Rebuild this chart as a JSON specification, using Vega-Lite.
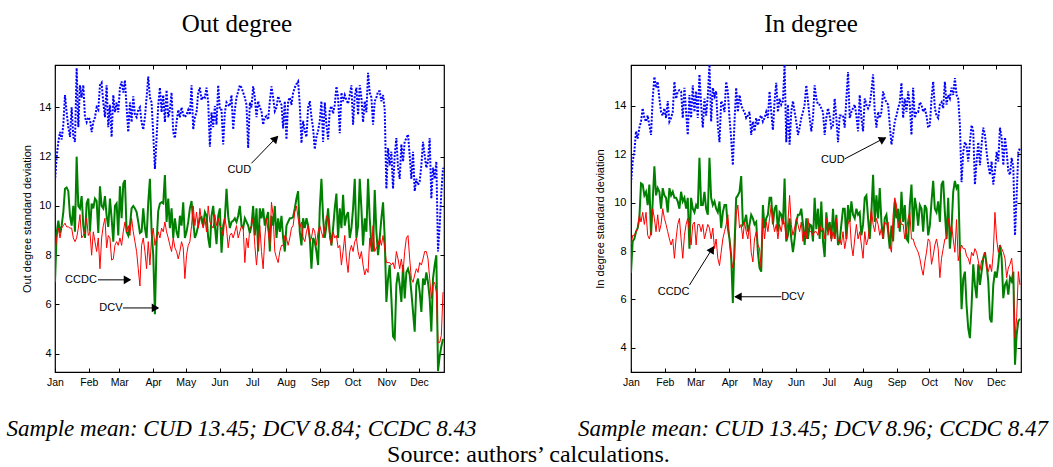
{
"$schema":"https://vega.github.io/schema/vega-lite/v6.json",
"background":"white",
"padding":{"left":5,"top":10,"right":0,"bottom":0},
"spacing":187,
"bounds":"flush",
"title":{"text":"Source: authors’ calculations.","orient":"bottom","anchor":"middle","fontSize":24,"baseline":"alphabetic","offset":21.5,"dx":1.7},
"config":{"view":{"stroke":"black","strokeWidth":1.2},"axis":{"grid":false,"domain":false,"ticks":true,"tickColor":"black","tickSize":-4,"tickWidth":1,"labelColor":"black","labelFont":"Liberation Sans","titleFont":"Liberation Sans","titleColor":"black","titleFontWeight":"normal"},"title":{"font":"Liberation Serif","fontWeight":"normal","color":"black"}},
"hconcat":[
{
"width":389,"height":307,
"title":{"text":"Out degree","fontSize":25,"baseline":"alphabetic","offset":8,"dx":-12.5,"anchor":"middle"},
"resolve":{"axis":{"x":"independent","y":"independent"}},
"data":{"values":[
{"t":0,"u":11.0,"v":6.9,"c":8.15},{"t":1,"u":12.0,"v":8.9,"c":8.7},{"t":2,"u":12.6,"v":9.4,"c":9.1},{"t":3,"u":13.0,"v":8.9,"c":8.7},{"t":4,"u":12.7,"v":9.2,"c":9.1},{"t":5,"u":13.3,"v":9.75,"c":9.2},{"t":6,"u":14.5,"v":10.7,"c":9.3},{"t":7,"u":13.8,"v":10.75,"c":9.15},{"t":8,"u":13.2,"v":10.6,"c":9.15},{"t":9,"u":12.8,"v":9.6,"c":9.1},
{"t":10,"u":14.0,"v":9.2,"c":9.1},{"t":11,"u":12.8,"v":10.0,"c":8.7},{"t":12,"u":12.6,"v":8.95,"c":8.55},{"t":13,"u":15.6,"v":12.0,"c":8.7},{"t":14,"u":13.2,"v":10.0,"c":9.1},{"t":15,"u":14.9,"v":9.9,"c":9.65},{"t":16,"u":14.4,"v":10.4,"c":8.7},{"t":17,"u":14.9,"v":9.2,"c":8.8},{"t":18,"u":13.6,"v":8.7,"c":8.95},{"t":19,"u":13.4,"v":10.1,"c":9.5},
{"t":20,"u":13.6,"v":10.3,"c":8.8},{"t":21,"u":13.5,"v":8.95,"c":8.95},{"t":22,"u":13.0,"v":10.1,"c":8.0},{"t":23,"u":13.4,"v":9.9,"c":8.95},{"t":24,"u":13.6,"v":10.3,"c":8.55},{"t":25,"u":14.0,"v":10.2,"c":8.15},{"t":26,"u":13.9,"v":8.9,"c":8.7},{"t":27,"u":14.9,"v":10.8,"c":7.45},{"t":28,"u":15.0,"v":10.0,"c":8.7},{"t":29,"u":14.2,"v":9.9,"c":9.2},
{"t":30,"u":13.6,"v":10.4,"c":9.5},{"t":31,"u":14.9,"v":9.6,"c":8.3},{"t":32,"u":13.2,"v":9.15,"c":8.8},{"t":33,"u":14.1,"v":10.3,"c":8.7},{"t":34,"u":12.8,"v":9.5,"c":7.8},{"t":35,"u":14.5,"v":8.55,"c":7.85},{"t":36,"u":13.8,"v":10.0,"c":8.4},{"t":37,"u":14.2,"v":10.1,"c":8.55},{"t":38,"u":13.8,"v":8.8,"c":8.4},{"t":39,"u":14.8,"v":10.8,"c":8.7},
{"t":40,"u":15.05,"v":9.5,"c":8.4},{"t":41,"u":14.6,"v":10.9,"c":8.95},{"t":42,"u":15.1,"v":11.05,"c":9.35},{"t":43,"u":14.0,"v":8.95,"c":8.95},{"t":44,"u":13.0,"v":8.8,"c":9.2},{"t":45,"u":14.2,"v":9.2,"c":8.8},{"t":46,"u":13.4,"v":9.9,"c":9.5},{"t":47,"u":14.45,"v":10.0,"c":8.95},{"t":48,"u":13.7,"v":9.9,"c":8.55},{"t":49,"u":13.6,"v":9.75,"c":8.15},
{"t":50,"u":13.9,"v":9.35,"c":7.45},{"t":51,"u":14.0,"v":8.9,"c":6.75},{"t":52,"u":13.4,"v":8.95,"c":8.4},{"t":53,"u":13.1,"v":9.9,"c":8.7},{"t":54,"u":13.6,"v":9.1,"c":8.15},{"t":55,"u":14.4,"v":8.7,"c":7.45},{"t":56,"u":15.25,"v":10.15,"c":8.55},{"t":57,"u":14.4,"v":11.1,"c":7.6},{"t":58,"u":14.2,"v":9.0,"c":8.7},{"t":59,"u":12.9,"v":8.0,"c":9.1},
{"t":60,"u":11.5,"v":5.6,"c":8.4},{"t":61,"u":12.75,"v":8.5,"c":8.7},{"t":62,"u":14.1,"v":9.8,"c":8.95},{"t":63,"u":14.8,"v":10.1,"c":8.7},{"t":64,"u":13.8,"v":10.15,"c":9.1},{"t":65,"u":14.5,"v":10.1,"c":8.95},{"t":66,"u":13.4,"v":11.25,"c":9.35},{"t":67,"u":14.7,"v":9.35,"c":8.95},{"t":68,"u":13.6,"v":10.3,"c":8.7},{"t":69,"u":13.9,"v":9.1,"c":8.4},
{"t":70,"u":14.6,"v":9.9,"c":8.15},{"t":71,"u":13.0,"v":8.7,"c":8.7},{"t":72,"u":12.75,"v":9.5,"c":8.3},{"t":73,"u":13.4,"v":8.95,"c":8.15},{"t":74,"u":13.9,"v":8.7,"c":7.85},{"t":75,"u":13.6,"v":9.6,"c":8.15},{"t":76,"u":14.0,"v":9.2,"c":8.55},{"t":77,"u":13.7,"v":10.15,"c":8.3},{"t":78,"u":13.6,"v":8.7,"c":7.05},{"t":79,"u":13.7,"v":8.95,"c":8.0},
{"t":80,"u":13.9,"v":9.35,"c":8.4},{"t":81,"u":13.7,"v":9.9,"c":8.55},{"t":82,"u":14.9,"v":10.2,"c":9.2},{"t":83,"u":13.1,"v":9.35,"c":10.0},{"t":84,"u":13.6,"v":8.7,"c":9.2},{"t":85,"u":13.8,"v":8.9,"c":9.75},{"t":86,"u":14.6,"v":9.2,"c":9.1},{"t":87,"u":14.8,"v":9.5,"c":9.9},{"t":88,"u":14.3,"v":9.55,"c":9.35},{"t":89,"u":14.45,"v":9.2,"c":9.1},
{"t":90,"u":14.4,"v":9.75,"c":9.5},{"t":91,"u":14.8,"v":9.6,"c":8.95},{"t":92,"u":14.2,"v":8.7,"c":10.0},{"t":93,"u":12.4,"v":8.3,"c":9.35},{"t":94,"u":13.8,"v":9.6,"c":9.2},{"t":95,"u":13.2,"v":10.0,"c":9.1},{"t":96,"u":14.05,"v":9.2,"c":9.65},{"t":97,"u":13.3,"v":8.45,"c":9.2},{"t":98,"u":14.9,"v":9.6,"c":9.5},{"t":99,"u":13.9,"v":9.9,"c":9.2},
{"t":100,"u":13.9,"v":8.1,"c":9.1},{"t":101,"u":12.5,"v":9.2,"c":8.8},{"t":102,"u":13.8,"v":9.5,"c":9.5},{"t":103,"u":14.2,"v":10.7,"c":9.1},{"t":104,"u":14.1,"v":9.6,"c":8.3},{"t":105,"u":14.05,"v":9.1,"c":8.8},{"t":106,"u":14.5,"v":9.35,"c":8.9},{"t":107,"u":13.1,"v":9.4,"c":8.7},{"t":108,"u":13.9,"v":9.5,"c":8.95},{"t":109,"u":14.4,"v":9.35,"c":9.2},
{"t":110,"u":14.65,"v":9.6,"c":8.7},{"t":111,"u":14.9,"v":10.0,"c":8.95},{"t":112,"u":14.8,"v":9.2,"c":9.2},{"t":113,"u":14.6,"v":9.1,"c":9.1},{"t":114,"u":14.4,"v":9.5,"c":7.7},{"t":115,"u":14.1,"v":9.35,"c":8.7},{"t":116,"u":12.35,"v":9.2,"c":8.3},{"t":117,"u":14.2,"v":8.9,"c":9.1},{"t":118,"u":14.0,"v":9.2,"c":9.2},{"t":119,"u":14.85,"v":10.0,"c":9.5},
{"t":120,"u":14.4,"v":8.8,"c":8.4},{"t":121,"u":13.6,"v":9.9,"c":7.6},{"t":122,"u":14.25,"v":8.15,"c":8.4},{"t":123,"u":14.0,"v":9.9,"c":9.2},{"t":124,"u":13.85,"v":9.5,"c":8.15},{"t":125,"u":13.3,"v":9.9,"c":7.45},{"t":126,"u":13.6,"v":9.2,"c":8.7},{"t":127,"u":13.65,"v":9.5,"c":9.5},{"t":128,"u":13.5,"v":9.75,"c":8.95},{"t":129,"u":14.25,"v":8.15,"c":8.4},
{"t":130,"u":14.85,"v":9.6,"c":10.15},{"t":131,"u":14.4,"v":9.2,"c":9.6},{"t":132,"u":13.85,"v":10.0,"c":8.15},{"t":133,"u":14.0,"v":8.7,"c":7.9},{"t":134,"u":14.45,"v":9.5,"c":7.7},{"t":135,"u":14.25,"v":8.95,"c":8.15},{"t":136,"u":14.1,"v":9.6,"c":8.4},{"t":137,"u":13.15,"v":8.7,"c":8.4},{"t":138,"u":14.25,"v":8.15,"c":8.8},{"t":139,"u":12.7,"v":9.2,"c":8.7},
{"t":140,"u":14.25,"v":9.35,"c":8.4},{"t":141,"u":14.4,"v":9.5,"c":8.7},{"t":142,"u":14.1,"v":9.5,"c":9.1},{"t":143,"u":14.6,"v":9.55,"c":9.2},{"t":144,"u":14.8,"v":9.9,"c":9.75},{"t":145,"u":14.95,"v":10.3,"c":10.0},{"t":146,"u":15.05,"v":10.6,"c":9.5},{"t":147,"u":14.1,"v":8.95,"c":9.1},{"t":148,"u":12.55,"v":8.4,"c":9.35},{"t":149,"u":13.45,"v":9.5,"c":8.7},
{"t":150,"u":13.05,"v":9.1,"c":8.55},{"t":151,"u":12.8,"v":9.5,"c":8.95},{"t":152,"u":14.0,"v":9.2,"c":9.2},{"t":153,"u":14.25,"v":8.7,"c":8.55},{"t":154,"u":13.6,"v":7.45,"c":8.7},{"t":155,"u":13.15,"v":8.7,"c":9.1},{"t":156,"u":12.3,"v":8.55,"c":8.95},{"t":157,"u":12.8,"v":8.15,"c":8.4},{"t":158,"u":13.05,"v":7.6,"c":8.95},{"t":159,"u":13.45,"v":9.9,"c":9.2},
{"t":160,"u":14.25,"v":11.1,"c":8.95},{"t":161,"u":12.6,"v":9.5,"c":8.7},{"t":162,"u":14.2,"v":8.7,"c":9.1},{"t":163,"u":13.3,"v":9.2,"c":9.6},{"t":164,"u":12.7,"v":9.9,"c":9.5},{"t":165,"u":13.9,"v":8.95,"c":8.7},{"t":166,"u":14.05,"v":8.4,"c":8.4},{"t":167,"u":13.75,"v":9.1,"c":8.95},{"t":168,"u":14.1,"v":9.9,"c":8.7},{"t":169,"u":14.85,"v":10.5,"c":8.8},
{"t":170,"u":14.4,"v":8.7,"c":8.3},{"t":171,"u":12.95,"v":9.9,"c":8.4},{"t":172,"u":14.6,"v":9.1,"c":7.6},{"t":173,"u":14.25,"v":10.45,"c":8.15},{"t":174,"u":14.5,"v":9.2,"c":8.8},{"t":175,"u":14.3,"v":9.6,"c":7.85},{"t":176,"u":14.15,"v":9.75,"c":7.3},{"t":177,"u":14.5,"v":8.7,"c":8.15},{"t":178,"u":14.9,"v":9.1,"c":8.4},{"t":179,"u":13.3,"v":9.9,"c":8.15},
{"t":180,"u":14.45,"v":11.1,"c":8.55},{"t":181,"u":14.8,"v":8.7,"c":8.7},{"t":182,"u":13.7,"v":9.2,"c":8.15},{"t":183,"u":14.9,"v":11.1,"c":7.85},{"t":184,"u":14.4,"v":9.9,"c":8.15},{"t":185,"u":13.4,"v":8.4,"c":7.6},{"t":186,"u":14.25,"v":9.5,"c":7.2},{"t":187,"u":13.8,"v":8.95,"c":7.45},{"t":188,"u":15.4,"v":11.1,"c":7.3},{"t":189,"u":14.6,"v":9.5,"c":8.7},
{"t":190,"u":14.4,"v":8.4,"c":8.15},{"t":191,"u":13.3,"v":8.15,"c":9.2},{"t":192,"u":14.25,"v":10.65,"c":8.15},{"t":193,"u":14.4,"v":8.95,"c":8.3},{"t":194,"u":14.65,"v":8.0,"c":8.4},{"t":195,"u":14.65,"v":8.7,"c":8.7},{"t":196,"u":14.25,"v":9.5,"c":8.4},{"t":197,"u":14.5,"v":10.15,"c":8.8},{"t":198,"u":13.9,"v":8.7,"c":8.3},{"t":199,"u":10.7,"v":6.1,"c":7.7},
{"t":200,"u":12.35,"v":7.05,"c":7.7},{"t":201,"u":11.65,"v":7.6,"c":7.7},{"t":202,"u":12.2,"v":6.25,"c":7.6},{"t":203,"u":10.7,"v":4.7,"c":7.7},{"t":204,"u":12.05,"v":4.6,"c":7.45},{"t":205,"u":12.75,"v":6.8,"c":8.15},{"t":206,"u":11.55,"v":7.3,"c":7.85},{"t":207,"u":11.1,"v":6.8,"c":7.45},{"t":208,"u":12.5,"v":6.1,"c":7.85},{"t":209,"u":11.8,"v":7.6,"c":7.3},
{"t":210,"u":12.6,"v":6.25,"c":8.15},{"t":211,"u":12.75,"v":7.3,"c":8.7},{"t":212,"u":12.9,"v":7.45,"c":8.8},{"t":213,"u":12.05,"v":7.2,"c":7.85},{"t":214,"u":11.1,"v":6.5,"c":7.05},{"t":215,"u":12.2,"v":5.7,"c":6.9},{"t":216,"u":10.6,"v":4.9,"c":7.2},{"t":217,"u":11.1,"v":6.8,"c":7.45},{"t":218,"u":10.85,"v":7.05,"c":7.3},{"t":219,"u":11.0,"v":6.5,"c":7.7},
{"t":220,"u":11.65,"v":5.7,"c":7.6},{"t":221,"u":12.6,"v":7.05,"c":7.85},{"t":222,"u":12.05,"v":6.8,"c":8.15},{"t":223,"u":11.55,"v":7.3,"c":8.15},{"t":224,"u":11.8,"v":6.9,"c":7.85},{"t":225,"u":12.75,"v":6.25,"c":7.05},{"t":226,"u":10.3,"v":4.9,"c":6.25},{"t":227,"u":11.55,"v":7.05,"c":6.8},{"t":228,"u":11.1,"v":7.6,"c":6.9},{"t":229,"u":11.8,"v":8.0,"c":6.5},
{"t":230,"u":8.15,"v":3.3,"c":4.45},{"t":231,"u":9.2,"v":3.9,"c":4.45},{"t":232,"u":10.55,"v":4.3,"c":4.75},{"t":233,"u":11.55,"v":4.6,"c":6.5}
]},
"layer":[
{"mark":{"type":"line","color":"#0000ff","strokeWidth":2,"strokeDash":[2,1.5],"clip":true},
"encoding":{"x":{"field":"t","type":"quantitative","scale":{"domain":[0,233.6],"nice":false,"zero":false},
"axis":{"orient":"bottom","values":[0,20.29,38.61,58.9,78.53,98.82,118.46,138.74,159.03,178.66,198.95,218.59],"labelExpr":"['Jan','Feb','Mar','Apr','May','Jun','Jul','Aug','Sep','Oct','Nov','Dec'][round(datum.value/19.9)]","labelFlush":false,"labelOverlap":false,"labelPadding":9,"labelFontSize":10.5,"title":"Sample mean: CUD 13.45; DCV 8.84; CCDC 8.43","titleFont":"Liberation Serif","titleFontStyle":"italic","titleFontSize":23,"titleX":186,"titleY":63,"titleAlign":"center","titleBaseline":"alphabetic"}},
"y":{"field":"u","type":"quantitative","scale":{"domain":[3.26,15.72],"nice":false,"zero":false},
"axis":{"orient":"left","values":[4,6,8,10,12,14],"labelPadding":8,"labelFontSize":11,"title":"Out degree standard deviation","titleFontSize":11,"titlePadding":6}}}},
{"mark":{"type":"line","color":"#008000","strokeWidth":2,"clip":true},
"encoding":{"x":{"field":"t","type":"quantitative","scale":{"domain":[0,233.6],"nice":false,"zero":false},"axis":null},
"y":{"field":"v","type":"quantitative","scale":{"domain":[3.26,15.72],"nice":false,"zero":false},"axis":null}}},
{"mark":{"type":"line","color":"#ff0000","strokeWidth":1,"clip":true},
"encoding":{"x":{"field":"t","type":"quantitative","scale":{"domain":[0,233.6],"nice":false,"zero":false},"axis":null},
"y":{"field":"c","type":"quantitative","scale":{"domain":[3.26,15.72],"nice":false,"zero":false},"axis":null}}},
{"data":{"values":[{"x":25.8,"y":7.0,"x2":45.0,"y2":7.0},{"x":40.8,"y":5.86,"x2":61.8,"y2":5.86},{"x":118.0,"y":11.73,"x2":133.6,"y2":12.82}]},
"mark":{"type":"rule","color":"black","strokeWidth":1},
"encoding":{"x":{"field":"x","type":"quantitative","scale":{"domain":[0,233.6],"nice":false,"zero":false},"axis":{"orient":"top","values":[0,20.29,38.61,58.9,78.53,98.82,118.46,138.74,159.03,178.66,198.95,218.59],"labels":false,"title":null}},
"y":{"field":"y","type":"quantitative","scale":{"domain":[3.26,15.72],"nice":false,"zero":false},"axis":{"orient":"right","values":[4,6,8,10,12,14],"labels":false,"title":null}},
"x2":{"field":"x2"},"y2":{"field":"y2"}}},
{"data":{"values":[{"x":42.8,"y":7.0,"a":90},{"x":59.6,"y":5.86,"a":90},{"x":132.0,"y":12.7,"a":44}]},
"mark":{"type":"point","shape":"triangle","filled":true,"color":"black","opacity":1,"size":75},
"encoding":{"x":{"field":"x","type":"quantitative","scale":{"domain":[0,233.6],"nice":false,"zero":false},"axis":null},
"y":{"field":"y","type":"quantitative","scale":{"domain":[3.26,15.72],"nice":false,"zero":false},"axis":null},
"angle":{"field":"a","type":"quantitative","scale":null}}},
{"data":{"values":[{"x":15.6,"y":7.01,"label":"CCDC"},{"x":33.6,"y":5.86,"label":"DCV"},{"x":110.7,"y":11.44,"label":"CUD"}]},
"mark":{"type":"text","font":"Liberation Sans","fontSize":11,"color":"black"},
"encoding":{"x":{"field":"x","type":"quantitative","scale":{"domain":[0,233.6],"nice":false,"zero":false},"axis":null},
"y":{"field":"y","type":"quantitative","scale":{"domain":[3.26,15.72],"nice":false,"zero":false},"axis":null},
"text":{"field":"label"}}}
]
},
{
"width":390,"height":307,
"title":{"text":"In degree","fontSize":25,"baseline":"alphabetic","offset":8,"dx":-15,"anchor":"middle"},
"resolve":{"axis":{"x":"independent","y":"independent"}},
"data":{"values":[
{"t":0,"u":10.8,"v":7.1,"c":8.25},{"t":1,"u":11.7,"v":8.4,"c":8.65},{"t":2,"u":12.1,"v":8.5,"c":8.65},{"t":3,"u":12.95,"v":8.8,"c":8.8},{"t":4,"u":12.65,"v":8.95,"c":8.95},{"t":5,"u":13.1,"v":9.35,"c":9.5},{"t":6,"u":13.35,"v":10.8,"c":9.2},{"t":7,"u":13.9,"v":10.75,"c":9.6},{"t":8,"u":13.5,"v":10.3,"c":9.1},{"t":9,"u":13.35,"v":10.45,"c":9.6},
{"t":10,"u":13.6,"v":9.9,"c":8.65},{"t":11,"u":13.2,"v":10.75,"c":8.5},{"t":12,"u":12.8,"v":8.65,"c":8.8},{"t":13,"u":14.3,"v":10.05,"c":9.75},{"t":14,"u":15.2,"v":11.5,"c":9.35},{"t":15,"u":14.75,"v":10.3,"c":8.8},{"t":16,"u":15.0,"v":10.6,"c":9.5},{"t":17,"u":14.3,"v":10.45,"c":8.8},{"t":18,"u":13.75,"v":9.75,"c":9.1},{"t":19,"u":13.6,"v":10.6,"c":9.75},
{"t":20,"u":13.9,"v":10.3,"c":9.35},{"t":21,"u":13.5,"v":10.2,"c":9.1},{"t":22,"u":14.2,"v":9.6,"c":8.8},{"t":23,"u":13.35,"v":10.6,"c":8.5},{"t":24,"u":13.5,"v":10.3,"c":8.25},{"t":25,"u":13.75,"v":10.45,"c":8.5},{"t":26,"u":15.0,"v":10.2,"c":7.7},{"t":27,"u":14.3,"v":10.2,"c":8.5},{"t":28,"u":14.6,"v":10.05,"c":9.1},{"t":29,"u":14.65,"v":9.75,"c":9.35},
{"t":30,"u":14.6,"v":10.45,"c":8.5},{"t":31,"u":13.5,"v":10.05,"c":7.7},{"t":32,"u":14.75,"v":10.2,"c":8.65},{"t":33,"u":13.75,"v":9.75,"c":9.1},{"t":34,"u":12.8,"v":10.2,"c":9.35},{"t":35,"u":14.45,"v":8.1,"c":8.8},{"t":36,"u":13.5,"v":10.2,"c":8.25},{"t":37,"u":14.85,"v":9.75,"c":9.1},{"t":38,"u":13.75,"v":9.6,"c":9.2},{"t":39,"u":14.6,"v":9.9,"c":8.25},
{"t":40,"u":13.5,"v":9.75,"c":9.1},{"t":41,"u":15.3,"v":11.85,"c":9.1},{"t":42,"u":14.05,"v":9.9,"c":8.8},{"t":43,"u":13.1,"v":9.9,"c":9.1},{"t":44,"u":14.3,"v":10.45,"c":8.5},{"t":45,"u":13.6,"v":9.75,"c":8.8},{"t":46,"u":14.4,"v":9.5,"c":9.1},{"t":47,"u":15.7,"v":11.85,"c":8.95},{"t":48,"u":13.35,"v":10.2,"c":8.5},{"t":49,"u":14.75,"v":9.9,"c":8.95},
{"t":50,"u":14.4,"v":10.05,"c":8.1},{"t":51,"u":14.6,"v":9.75,"c":8.5},{"t":52,"u":13.2,"v":9.6,"c":7.7},{"t":53,"u":12.5,"v":10.05,"c":7.4},{"t":54,"u":14.2,"v":8.95,"c":7.95},{"t":55,"u":14.05,"v":9.6,"c":8.5},{"t":56,"u":13.75,"v":9.9,"c":8.8},{"t":57,"u":15.0,"v":9.9,"c":9.1},{"t":58,"u":14.6,"v":8.95,"c":9.5},{"t":59,"u":13.5,"v":8.5,"c":8.5},
{"t":60,"u":12.65,"v":7.8,"c":7.7},{"t":61,"u":11.55,"v":5.85,"c":7.3},{"t":62,"u":13.35,"v":8.25,"c":7.7},{"t":63,"u":14.75,"v":10.2,"c":9.5},{"t":64,"u":13.75,"v":10.3,"c":9.9},{"t":65,"u":14.45,"v":10.45,"c":8.95},{"t":66,"u":14.05,"v":11.1,"c":9.1},{"t":67,"u":13.85,"v":9.1,"c":8.5},{"t":68,"u":13.75,"v":9.2,"c":9.2},{"t":69,"u":13.5,"v":9.5,"c":8.8},
{"t":70,"u":13.6,"v":8.8,"c":8.5},{"t":71,"u":13.75,"v":9.1,"c":9.1},{"t":72,"u":12.8,"v":9.5,"c":7.95},{"t":73,"u":13.35,"v":9.35,"c":7.55},{"t":74,"u":12.95,"v":9.1,"c":8.5},{"t":75,"u":13.5,"v":9.2,"c":8.8},{"t":76,"u":13.2,"v":7.95,"c":8.25},{"t":77,"u":13.5,"v":7.3,"c":8.1},{"t":78,"u":13.6,"v":7.15,"c":7.3},{"t":79,"u":13.35,"v":9.9,"c":9.35},
{"t":80,"u":13.5,"v":8.95,"c":8.5},{"t":81,"u":13.75,"v":9.35,"c":9.2},{"t":82,"u":13.5,"v":9.5,"c":8.8},{"t":83,"u":14.6,"v":10.2,"c":9.35},{"t":84,"u":13.75,"v":10.2,"c":9.9},{"t":85,"u":13.0,"v":9.1,"c":9.2},{"t":86,"u":14.2,"v":9.75,"c":8.8},{"t":87,"u":14.95,"v":9.9,"c":9.1},{"t":88,"u":13.75,"v":8.8,"c":8.5},{"t":89,"u":14.3,"v":9.6,"c":9.1},
{"t":90,"u":14.05,"v":9.5,"c":8.8},{"t":91,"u":14.2,"v":9.1,"c":9.35},{"t":92,"u":15.7,"v":11.0,"c":9.1},{"t":93,"u":12.5,"v":8.4,"c":8.5},{"t":94,"u":14.05,"v":8.65,"c":9.2},{"t":95,"u":12.4,"v":9.35,"c":10.3},{"t":96,"u":13.75,"v":8.5,"c":9.1},{"t":97,"u":14.2,"v":7.95,"c":8.65},{"t":98,"u":13.75,"v":8.5,"c":8.95},{"t":99,"u":13.35,"v":9.2,"c":9.35},
{"t":100,"u":12.8,"v":9.5,"c":9.1},{"t":101,"u":13.1,"v":9.5,"c":8.8},{"t":102,"u":13.5,"v":9.75,"c":9.2},{"t":103,"u":13.75,"v":9.1,"c":8.4},{"t":104,"u":14.05,"v":8.25,"c":8.8},{"t":105,"u":14.85,"v":9.35,"c":8.5},{"t":106,"u":14.2,"v":8.5,"c":9.35},{"t":107,"u":13.5,"v":9.1,"c":8.8},{"t":108,"u":12.95,"v":9.05,"c":8.8},{"t":109,"u":13.5,"v":8.4,"c":8.65},
{"t":110,"u":14.85,"v":10.2,"c":8.8},{"t":111,"u":14.3,"v":8.9,"c":8.8},{"t":112,"u":14.05,"v":9.75,"c":8.65},{"t":113,"u":14.05,"v":8.5,"c":9.1},{"t":114,"u":13.9,"v":10.05,"c":8.8},{"t":115,"u":13.75,"v":8.4,"c":8.95},{"t":116,"u":12.8,"v":7.75,"c":8.5},{"t":117,"u":13.5,"v":9.6,"c":9.35},{"t":118,"u":13.9,"v":8.8,"c":8.65},{"t":119,"u":13.6,"v":9.2,"c":9.1},
{"t":120,"u":13.1,"v":8.5,"c":8.4},{"t":121,"u":13.2,"v":9.75,"c":8.8},{"t":122,"u":14.3,"v":8.5,"c":8.5},{"t":123,"u":13.5,"v":9.5,"c":9.35},{"t":124,"u":12.5,"v":8.25,"c":8.4},{"t":125,"u":13.6,"v":8.4,"c":8.5},{"t":126,"u":13.6,"v":9.1,"c":8.25},{"t":127,"u":13.6,"v":9.75,"c":8.8},{"t":128,"u":13.1,"v":9.75,"c":8.1},{"t":129,"u":14.3,"v":8.5,"c":8.5},
{"t":130,"u":15.4,"v":9.9,"c":9.1},{"t":131,"u":13.5,"v":9.2,"c":9.35},{"t":132,"u":13.75,"v":10.05,"c":8.25},{"t":133,"u":13.9,"v":9.5,"c":7.8},{"t":134,"u":14.05,"v":9.35,"c":8.5},{"t":135,"u":13.6,"v":9.75,"c":9.1},{"t":136,"u":12.95,"v":9.5,"c":8.5},{"t":137,"u":14.45,"v":9.6,"c":8.8},{"t":138,"u":13.5,"v":8.65,"c":8.25},{"t":139,"u":12.95,"v":9.1,"c":7.7},
{"t":140,"u":14.3,"v":10.2,"c":8.8},{"t":141,"u":14.05,"v":10.3,"c":8.25},{"t":142,"u":13.9,"v":9.35,"c":8.5},{"t":143,"u":14.05,"v":8.5,"c":9.1},{"t":144,"u":14.6,"v":9.6,"c":9.75},{"t":145,"u":15.3,"v":11.15,"c":9.1},{"t":146,"u":13.75,"v":9.2,"c":8.8},{"t":147,"u":13.1,"v":10.3,"c":9.35},{"t":148,"u":13.75,"v":9.35,"c":9.1},{"t":149,"u":13.5,"v":10.6,"c":8.65},
{"t":150,"u":13.75,"v":9.2,"c":8.95},{"t":151,"u":14.6,"v":8.5,"c":8.5},{"t":152,"u":14.3,"v":9.35,"c":9.2},{"t":153,"u":14.15,"v":9.5,"c":9.1},{"t":154,"u":14.05,"v":8.8,"c":9.2},{"t":155,"u":13.2,"v":8.1,"c":8.25},{"t":156,"u":12.4,"v":9.05,"c":7.95},{"t":157,"u":12.8,"v":8.4,"c":9.5},{"t":158,"u":13.35,"v":10.05,"c":10.2},{"t":159,"u":13.6,"v":9.35,"c":9.9},
{"t":160,"u":13.9,"v":9.75,"c":8.95},{"t":161,"u":14.15,"v":8.8,"c":9.35},{"t":162,"u":14.95,"v":10.45,"c":9.1},{"t":163,"u":13.5,"v":9.2,"c":9.1},{"t":164,"u":14.3,"v":9.9,"c":8.5},{"t":165,"u":13.75,"v":8.5,"c":8.8},{"t":166,"u":14.6,"v":8.4,"c":9.35},{"t":167,"u":14.05,"v":9.9,"c":9.6},{"t":168,"u":12.8,"v":10.75,"c":8.5},{"t":169,"u":14.75,"v":8.8,"c":8.5},
{"t":170,"u":13.5,"v":10.2,"c":8.25},{"t":171,"u":13.75,"v":9.75,"c":8.1},{"t":172,"u":13.75,"v":9.05,"c":7.95},{"t":173,"u":14.15,"v":9.9,"c":7.7},{"t":174,"u":14.05,"v":9.75,"c":7.3},{"t":175,"u":13.75,"v":8.8,"c":7.0},{"t":176,"u":13.9,"v":9.9,"c":7.55},{"t":177,"u":13.6,"v":9.75,"c":7.95},{"t":178,"u":13.1,"v":8.65,"c":8.5},{"t":179,"u":13.2,"v":9.05,"c":8.4},
{"t":180,"u":14.3,"v":10.05,"c":7.45},{"t":181,"u":15.0,"v":10.9,"c":7.8},{"t":182,"u":13.9,"v":9.75,"c":8.25},{"t":183,"u":13.6,"v":9.6,"c":8.5},{"t":184,"u":13.5,"v":10.05,"c":8.1},{"t":185,"u":14.05,"v":9.2,"c":6.9},{"t":186,"u":14.15,"v":10.75,"c":7.7},{"t":187,"u":13.9,"v":10.9,"c":8.1},{"t":188,"u":15.0,"v":9.6,"c":8.5},{"t":189,"u":14.05,"v":8.5,"c":8.5},
{"t":190,"u":14.45,"v":10.2,"c":9.35},{"t":191,"u":14.3,"v":8.1,"c":8.8},{"t":192,"u":14.75,"v":8.95,"c":9.1},{"t":193,"u":14.45,"v":10.45,"c":8.5},{"t":194,"u":15.15,"v":10.9,"c":7.95},{"t":195,"u":14.45,"v":10.6,"c":9.3},{"t":196,"u":14.3,"v":10.75,"c":7.6},{"t":197,"u":13.2,"v":8.1,"c":7.95},{"t":198,"u":10.85,"v":5.6,"c":8.25},{"t":199,"u":12.1,"v":6.85,"c":8.1},
{"t":200,"u":12.5,"v":7.15,"c":8.1},{"t":201,"u":12.35,"v":5.75,"c":7.8},{"t":202,"u":11.7,"v":4.8,"c":7.7},{"t":203,"u":12.5,"v":4.4,"c":7.45},{"t":204,"u":13.2,"v":5.75,"c":7.95},{"t":205,"u":12.95,"v":7.45,"c":7.8},{"t":206,"u":10.75,"v":6.6,"c":8.1},{"t":207,"u":11.7,"v":6.05,"c":7.95},{"t":208,"u":12.5,"v":7.45,"c":7.6},{"t":209,"u":11.55,"v":6.6,"c":7.2},
{"t":210,"u":12.4,"v":7.15,"c":7.6},{"t":211,"u":13.1,"v":7.7,"c":7.7},{"t":212,"u":12.8,"v":7.95,"c":7.95},{"t":213,"u":12.1,"v":7.45,"c":7.3},{"t":214,"u":11.55,"v":6.75,"c":7.15},{"t":215,"u":11.15,"v":5.2,"c":7.45},{"t":216,"u":11.7,"v":5.05,"c":7.15},{"t":217,"u":10.75,"v":6.6,"c":7.95},{"t":218,"u":11.3,"v":7.15,"c":9.6},{"t":219,"u":12.1,"v":6.9,"c":8.5},
{"t":220,"u":11.7,"v":7.45,"c":7.95},{"t":221,"u":13.1,"v":8.25,"c":8.25},{"t":222,"u":12.7,"v":7.7,"c":8.1},{"t":223,"u":11.55,"v":6.05,"c":7.95},{"t":224,"u":12.7,"v":6.6,"c":7.7},{"t":225,"u":12.1,"v":6.75,"c":6.9},{"t":226,"u":11.3,"v":6.2,"c":7.3},{"t":227,"u":11.15,"v":6.9,"c":7.45},{"t":228,"u":11.85,"v":6.75,"c":7.7},{"t":229,"u":11.45,"v":7.15,"c":6.9},
{"t":230,"u":8.65,"v":3.3,"c":4.4},{"t":231,"u":10.3,"v":4.55,"c":5.25},{"t":232,"u":12.1,"v":5.1,"c":7.15},{"t":233,"u":12.25,"v":5.2,"c":6.6}
]},
"layer":[
{"mark":{"type":"line","color":"#0000ff","strokeWidth":2,"strokeDash":[2,1.5],"clip":true},
"encoding":{"x":{"field":"t","type":"quantitative","scale":{"domain":[0,233.6],"nice":false,"zero":false},
"axis":{"orient":"bottom","values":[0,20.29,38.61,58.9,78.53,98.82,118.46,138.74,159.03,178.66,198.95,218.59],"labelExpr":"['Jan','Feb','Mar','Apr','May','Jun','Jul','Aug','Sep','Oct','Nov','Dec'][round(datum.value/19.9)]","labelFlush":false,"labelOverlap":false,"labelPadding":9,"labelFontSize":10.5,"title":"Sample mean: CUD 13.45; DCV 8.96; CCDC 8.47","titleFont":"Liberation Serif","titleFontStyle":"italic","titleFontSize":23,"titleX":181.5,"titleY":63,"titleAlign":"center","titleBaseline":"alphabetic"}},
"y":{"field":"u","type":"quantitative","scale":{"domain":[3.0,15.69],"nice":false,"zero":false},
"axis":{"orient":"left","values":[4,6,8,10,12,14],"labelPadding":9,"labelFontSize":11,"title":"In degree standard deviation","titleFontSize":11,"titlePadding":8}}}},
{"mark":{"type":"line","color":"#008000","strokeWidth":2,"clip":true},
"encoding":{"x":{"field":"t","type":"quantitative","scale":{"domain":[0,233.6],"nice":false,"zero":false},"axis":null},
"y":{"field":"v","type":"quantitative","scale":{"domain":[3.0,15.69],"nice":false,"zero":false},"axis":null}}},
{"mark":{"type":"line","color":"#ff0000","strokeWidth":1,"clip":true},
"encoding":{"x":{"field":"t","type":"quantitative","scale":{"domain":[0,233.6],"nice":false,"zero":false},"axis":null},
"y":{"field":"c","type":"quantitative","scale":{"domain":[3.0,15.69],"nice":false,"zero":false},"axis":null}}},
{"data":{"values":[{"x":35.0,"y":6.59,"x2":49.4,"y2":8.18},{"x":90.0,"y":6.11,"x2":62.4,"y2":6.11},{"x":128.0,"y":11.81,"x2":152.4,"y2":12.69}]},
"mark":{"type":"rule","color":"black","strokeWidth":1},
"encoding":{"x":{"field":"x","type":"quantitative","scale":{"domain":[0,233.6],"nice":false,"zero":false},"axis":{"orient":"top","values":[0,20.29,38.61,58.9,78.53,98.82,118.46,138.74,159.03,178.66,198.95,218.59],"labels":false,"title":null}},
"y":{"field":"y","type":"quantitative","scale":{"domain":[3.0,15.69],"nice":false,"zero":false},"axis":{"orient":"right","values":[4,6,8,10,12,14],"labels":false,"title":null}},
"x2":{"field":"x2"},"y2":{"field":"y2"}}},
{"data":{"values":[{"x":48.2,"y":8.03,"a":32},{"x":64.8,"y":6.11,"a":270},{"x":150.3,"y":12.6,"a":62}]},
"mark":{"type":"point","shape":"triangle","filled":true,"color":"black","opacity":1,"size":75},
"encoding":{"x":{"field":"x","type":"quantitative","scale":{"domain":[0,233.6],"nice":false,"zero":false},"axis":null},
"y":{"field":"y","type":"quantitative","scale":{"domain":[3.0,15.69],"nice":false,"zero":false},"axis":null},
"angle":{"field":"a","type":"quantitative","scale":null}}},
{"data":{"values":[{"x":25.5,"y":6.29,"label":"CCDC"},{"x":96.9,"y":6.11,"label":"DCV"},{"x":120.9,"y":11.77,"label":"CUD"}]},
"mark":{"type":"text","font":"Liberation Sans","fontSize":11,"color":"black"},
"encoding":{"x":{"field":"x","type":"quantitative","scale":{"domain":[0,233.6],"nice":false,"zero":false},"axis":null},
"y":{"field":"y","type":"quantitative","scale":{"domain":[3.0,15.69],"nice":false,"zero":false},"axis":null},
"text":{"field":"label"}}}
]
}
]
}
